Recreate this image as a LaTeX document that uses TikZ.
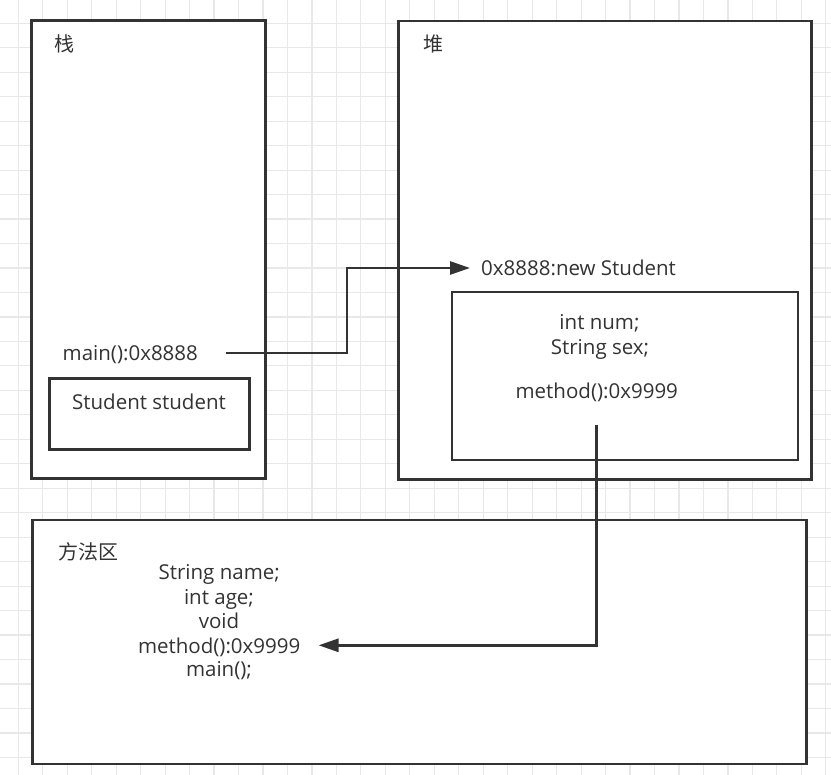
\documentclass[tikz,border=0pt]{standalone}
\usepackage{fontspec}
\setmainfont{Open Sans}
\newfontfamily\cjk{Noto Sans CJK SC}
\usetikzlibrary{arrows.meta}
\definecolor{ink}{HTML}{333333}
\definecolor{gridline}{HTML}{E8E8E8}

\begin{document}
\begin{tikzpicture}[x=1pt,y=-1pt,
    area/.style={draw=ink,line width=2.9pt,inner sep=0pt},
    lbl/.style={text=ink,font=\fontsize{20.5}{24.5}\selectfont,inner sep=0pt,
      text height=16pt,text depth=0pt,anchor=base},
    zh/.style={text=ink,font=\cjk\fontsize{20}{24}\selectfont,inner sep=0pt},
    link/.style={draw=ink,line width=2.8pt,-{Triangle[length=20pt,width=13pt]}}]
  \useasboundingbox (0,0) rectangle (831,775);
  % grid
  \foreach \k in {0,...,33}
    \draw[gridline,line width=1.2pt] (18.3+24.47*\k,0) -- (18.3+24.47*\k,775);
  \foreach \k in {0,...,30}
    \draw[gridline,line width=1.2pt] (0,23.3+24.47*\k) -- (831,23.3+24.47*\k);

  % stack
  \node[area,fill=white,minimum width=234pt,minimum height=457.6pt] (stack) at (148.7,249.5) {};
  \node[zh] (stacklbl) at (64,44) {栈};
  \node[lbl] (mainlbl) at (130.3,361) {main():0x8888};
  \node[area,minimum width=200pt,minimum height=71.5pt] (stuvar) at (149.5,414.2) {};
  \node[lbl] (stulbl) at (149,410) {Student student};

  % heap
  \node[area,fill=white,minimum width=412.7pt,minimum height=458.3pt] (heap) at (604.7,250.2) {};
  \node[zh] (heaplbl) at (433,44) {堆};
  \node[lbl,anchor=base west] (newlbl) at (481,276) {0x8888:new Student};
  \node[area,minimum width=346pt,minimum height=168pt] (obj) at (625,376) {};
  \node[lbl] (numlbl) at (599.5,330) {int num;};
  \node[lbl] (sexlbl) at (600,355) {String sex;};
  \node[lbl] (hmethod) at (596.8,398.3) {method():0x9999};

  % method area
  \node[area,fill=white,minimum width=774pt,minimum height=244pt] (marea) at (419.7,642) {};
  \node[zh] (marealbl) at (88.5,552) {方法区};
  \node[lbl] (namelbl) at (219.2,580) {String name;};
  \node[lbl] (agelbl) at (219,604.3) {int age;};
  \node[lbl] (voidlbl) at (219,628.3) {void};
  \node[lbl] (amethod) at (219.2,653.3) {method():0x9999};
  \node[lbl] (amain) at (219,676.7) {main();};

  % links
  \coordinate (hmout) at ([yshift=-27pt]hmethod.south);
  \draw[link,shorten <=28pt,shorten >=11pt] (mainlbl.east) -| ([xshift=-134pt]newlbl.west) -- (newlbl.west);
  \draw[link,shorten >=18pt] (hmout) |- (amethod.east);
\end{tikzpicture}
\end{document}
